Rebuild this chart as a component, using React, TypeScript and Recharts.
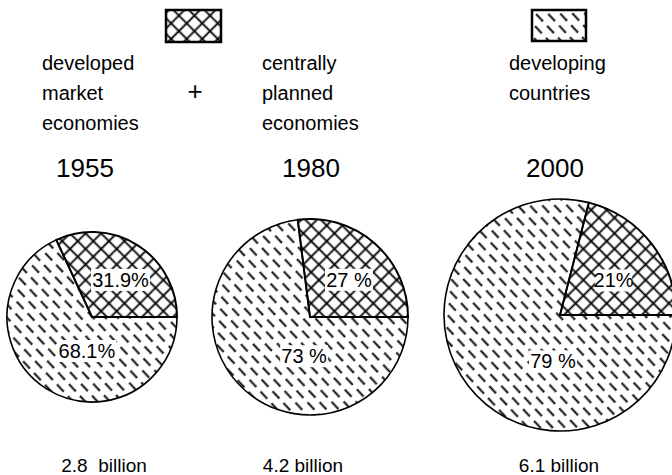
import { PieChart, Pie, Cell } from 'recharts'

const years = ['1955', '1980', '2000']
const totals = ['2.8  billion', '4.2 billion', '6.1 billion']
const developedShare = [31.9, 27, 21]
const developingShare = [68.1, 73, 79]
const developedLabels = ['31.9%', '27 %', '21%']
const developingLabels = ['68.1%', '73 %', '79 %']

const FONT = '"Liberation Sans", Arial, sans-serif'

// placement of each pie on the page
const pies = [
  { cx: 92, cy: 317, r: 85, yearX: 85, totalX: 104 },
  { cx: 310, cy: 317, r: 98, yearX: 311, totalX: 303 },
  { cx: 560, cy: 315, r: 116, yearX: 555, totalX: 559 },
]

const RAD = Math.PI / 180

const makeLabel = (labels: string[]) => (props: any) => {
  const { cx, cy, midAngle, outerRadius, index } = props
  let x: number
  let y: number
  if (index === 0) {
    const a = (midAngle - 5) * RAD
    x = cx + outerRadius * 0.55 * Math.cos(a)
    y = cy - outerRadius * 0.55 * Math.sin(a)
  } else {
    x = cx - outerRadius * 0.06
    y = cy + outerRadius * 0.4
  }
  const text = labels[index]
  const w = text.length * 11 + 4
  return (
    <g>
      <rect x={x - w / 2} y={y - 11} width={w} height={22} fill="#fff" />
      <text x={x} y={y + 7} textAnchor="middle" fontSize={20} fontFamily={FONT} fill="#000" style={{ whiteSpace: 'pre' }}>
        {text}
      </text>
    </g>
  )
}

export default function App() {
  const txt = { fontFamily: FONT, fill: '#000' }
  return (
    <div style={{ position: 'absolute', left: 0, top: 0, background: '#fff' }}>
      <PieChart width={672} height={475} margin={{ top: 0, right: 0, bottom: 0, left: 0 }}>
        <defs>
          <pattern id="cross" patternUnits="userSpaceOnUse" width="11" height="11" patternTransform="rotate(45)">
            <line x1="0" y1="5.5" x2="11" y2="5.5" stroke="#000" strokeWidth="1.8" />
            <line x1="5.5" y1="0" x2="5.5" y2="11" stroke="#000" strokeWidth="1.8" />
          </pattern>
          <pattern id="dash" patternUnits="userSpaceOnUse" width="16" height="18" patternTransform="rotate(47)">
            <line x1="0" y1="4.5" x2="10" y2="4.5" stroke="#000" strokeWidth="1.9" />
            <line x1="8" y1="13.5" x2="16" y2="13.5" stroke="#000" strokeWidth="1.9" />
            <line x1="0" y1="13.5" x2="2" y2="13.5" stroke="#000" strokeWidth="1.9" />
          </pattern>
        </defs>

        {/* legend */}
        <rect x={166} y={10} width={55} height={32} fill="url(#cross)" stroke="#000" strokeWidth={2.5} />
        <rect x={532} y={10} width={54} height={31} fill="url(#dash)" stroke="#000" strokeWidth={2.5} />
        <g fontSize={20} {...txt}>
          <text x={42} y={70}>developed</text>
          <text x={42} y={100}>market</text>
          <text x={42} y={130}>economies</text>
          <text x={195} y={100} textAnchor="middle" fontSize={26}>+</text>
          <text x={262} y={70}>centrally</text>
          <text x={262} y={100}>planned</text>
          <text x={262} y={130}>economies</text>
          <text x={509} y={70}>developing</text>
          <text x={509} y={100}>countries</text>
        </g>

        {years.map((yr, i) => (
          <text key={yr} x={pies[i].yearX} y={177} textAnchor="middle" fontSize={26} {...txt}>
            {yr}
          </text>
        ))}
        {totals.map((t, i) => (
          <text key={t} x={pies[i].totalX} y={472} textAnchor="middle" fontSize={19} style={{ whiteSpace: 'pre' }} {...txt}>
            {t}
          </text>
        ))}

        {years.map((yr, i) => {
          const data = [
            { name: 'developed + centrally planned', value: developedShare[i] },
            { name: 'developing', value: developingShare[i] },
          ]
          return (
            <Pie
              key={yr}
              data={data}
              dataKey="value"
              cx={pies[i].cx}
              cy={pies[i].cy}
              outerRadius={pies[i].r}
              startAngle={0}
              endAngle={360}
              isAnimationActive={false}
              labelLine={false}
              label={makeLabel([developedLabels[i], developingLabels[i]])}
            >
              <Cell fill="url(#cross)" stroke="#000" strokeWidth={2} />
              <Cell fill="url(#dash)" stroke="#000" strokeWidth={1.6} />
            </Pie>
          )
        })}
      </PieChart>
    </div>
  )
}
